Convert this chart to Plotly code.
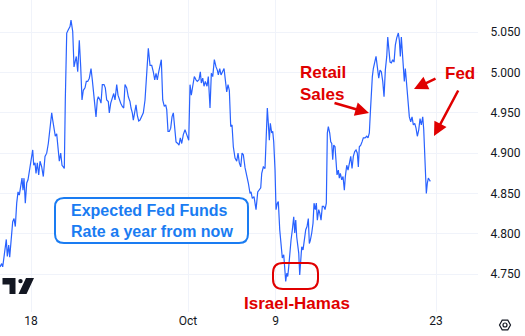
import plotly.graph_objects as go

# time in trading days since the Sep 18 session
t = [-1.914,-1.809,-1.747,-1.667,-1.586,-1.525,-1.463,-1.377,-1.315,-1.216,-1.130,-1.049,-0.969,-0.883,-0.802,-0.722,-0.636,-0.556,-0.494,-0.432,
     -0.352,-0.265,-0.185,-0.062,0.043,0.105,0.167,0.247,0.309,0.389,0.475,0.556,0.660,0.759,0.864,0.969,1.068,1.173,1.278,1.340,
     1.420,1.500,1.586,1.667,1.747,1.833,1.914,1.994,2.056,2.117,2.204,2.302,2.407,2.469,2.574,2.654,2.735,2.796,2.883,2.981,
     3.068,3.148,3.228,3.333,3.414,3.500,3.599,3.704,3.784,3.846,3.951,4.012,4.093,4.154,4.259,4.321,4.401,4.506,4.586,4.673,
     4.772,4.833,4.920,5.019,5.105,5.185,5.290,5.370,5.451,5.537,5.636,5.722,5.802,5.907,6.006,6.111,6.173,6.253,6.315,6.401,
     6.481,6.562,6.648,6.728,6.833,6.932,7.037,7.142,7.241,7.346,7.451,7.549,7.636,7.716,7.796,7.883,7.963,8.043,8.130,8.228,
     8.315,8.377,8.457,8.537,8.623,8.704,8.784,8.870,8.951,9.056,9.136,9.216,9.302,9.401,9.506,9.611,9.735,9.815,9.895,9.981,
     10.080,10.185,10.265,10.370,10.451,10.512,10.599,10.679,10.759,10.864,10.944,11.049,11.130,11.216,11.315,11.420,11.500,11.562,11.648,11.728,
     11.833,11.914,11.994,12.080,12.160,12.241,12.327,12.407,12.488,12.593,12.698,12.778,12.858,12.944,13.025,13.105,13.210,13.315,13.414,13.519,
     13.580,13.660,13.765,13.827,13.889,13.994,14.074,14.179,14.241,14.340,14.444,14.506,14.586,14.648,14.710,14.772,14.858,14.920,14.981,15.062,
     15.123,15.204,15.265,15.352,15.432,15.512,15.599,15.660,15.722,15.784,15.846,15.907,15.969,16.049,16.130,16.216,16.278,16.340,16.401,16.463,
     16.525,16.586,16.648,16.710,16.790,16.870,16.957,17.037,17.117,17.179,17.241,17.327,17.407,17.469,17.549,17.611,17.673,17.759,17.821,17.901,
     17.981,18.068,18.148,18.228,18.290,18.352,18.438,18.500,18.562,18.623,18.685,18.765,18.827,18.889,18.969,19.031,19.093,19.179,19.259,19.340,
     19.401,19.488,19.568,19.648,19.735,19.815,19.895,19.981,20.062,20.142,20.204,20.265,20.352,20.432,20.512,20.617,20.722,20.802,20.883,20.944,
     21.006,21.068,21.130,21.216,21.296,21.377,21.463,21.543,21.623,21.710,21.790,21.870,21.957,22.019,22.080,22.160,22.241,22.327,22.407,22.488,
     22.574,22.673,22.735,22.796,22.858,22.920,22.981,23.043,23.105,23.167,23.228,23.290,23.352,23.438,23.519,23.599,23.685,23.765,23.846,23.932,
     24.012,24.093,24.179,24.241,24.302,24.364,24.401,24.463,24.525,24.586,24.648]

rate = [4.759,4.763,4.759,4.770,4.782,4.793,4.772,4.786,4.771,4.792,4.815,4.819,4.809,4.838,4.852,4.848,4.863,4.869,4.854,4.869,
        4.838,4.863,4.867,4.885,4.894,4.904,4.885,4.888,4.875,4.888,4.873,4.890,4.883,4.871,4.896,4.900,4.912,4.929,4.950,4.941,
        4.929,4.921,4.924,4.904,4.890,4.900,4.885,4.883,4.881,4.966,5.049,5.053,5.057,5.065,5.051,5.007,5.018,5.020,5.001,5.040,
        5.007,4.966,4.978,4.981,4.989,4.989,4.993,5.005,4.991,4.976,4.958,4.945,4.966,4.970,4.966,4.962,4.985,4.985,4.981,4.966,
        4.964,4.950,4.962,4.970,4.974,4.966,4.985,4.972,4.966,4.962,4.958,4.956,4.985,4.981,4.970,4.964,4.956,4.950,4.941,4.954,
        4.960,4.947,4.940,4.941,4.945,4.950,4.966,5.007,5.030,5.009,5.009,5.001,4.991,4.999,4.991,5.001,5.007,5.016,4.966,4.958,
        4.960,4.954,4.927,4.927,4.931,4.945,4.950,4.933,4.914,4.912,4.910,4.919,4.912,4.923,4.929,4.923,4.916,4.985,4.972,4.983,
        4.995,4.991,4.989,4.991,5.001,4.987,4.993,4.983,4.989,4.983,4.995,4.956,4.999,4.995,5.016,5.007,5.003,4.997,5.005,4.997,
        5.001,5.005,4.991,4.976,4.985,4.978,4.933,4.935,4.908,4.894,4.890,4.900,4.888,4.883,4.900,4.898,4.882,4.873,4.863,4.850,
        4.852,4.844,4.846,4.838,4.830,4.852,4.854,4.857,4.875,4.883,4.881,4.912,4.956,4.937,4.916,4.937,4.925,4.927,4.914,4.879,
        4.830,4.838,4.840,4.805,4.788,4.770,4.774,4.751,4.741,4.751,4.747,4.759,4.780,4.792,4.805,4.821,4.801,4.817,4.796,4.788,
        4.776,4.749,4.772,4.784,4.780,4.796,4.805,4.809,4.819,4.788,4.792,4.801,4.813,4.838,4.830,4.838,4.817,4.830,4.826,4.817,
        4.834,4.834,4.830,4.838,4.925,4.933,4.925,4.914,4.912,4.892,4.910,4.908,4.890,4.873,4.879,4.869,4.875,4.867,4.871,4.854,
        4.871,4.885,4.879,4.888,4.896,4.881,4.896,4.902,4.904,4.900,4.883,4.908,4.910,4.914,4.919,4.919,4.921,4.919,4.925,4.950,
        4.976,4.995,5.005,5.012,5.020,5.007,4.993,5.003,5.001,4.989,4.970,5.003,5.020,5.044,5.030,5.013,5.012,5.016,5.013,5.034,
        5.043,5.049,5.040,5.020,5.044,5.028,5.003,4.989,5.005,4.989,4.968,4.954,4.945,4.939,4.945,4.935,4.937,4.931,4.921,4.929,
        4.943,4.935,4.945,4.929,4.896,4.863,4.850,4.863,4.869,4.867,4.865]

x_tick_vals = [0, 9.69, 15.1, 25.0]
x_tick_text = ["18", "Oct", "9", "23"]
y_tick_vals = [4.75, 4.80, 4.85, 4.90, 4.95, 5.00, 5.05]

W, H = 525, 336
ML, MR, MT, MB = 0, 47, 0, 24
PW, PH = W - ML - MR, H - MT - MB

def px(x):
    return (x - ML) / PW

def py(y):
    return 1 - (y - MT) / PH

def rrect(x0, y0, x1, y1, r):
    pts = [
        f"M {px(x0+r)},{py(y0)}", f"L {px(x1-r)},{py(y0)}",
        f"Q {px(x1)},{py(y0)} {px(x1)},{py(y0+r)}", f"L {px(x1)},{py(y1-r)}",
        f"Q {px(x1)},{py(y1)} {px(x1-r)},{py(y1)}", f"L {px(x0+r)},{py(y1)}",
        f"Q {px(x0)},{py(y1)} {px(x0)},{py(y1-r)}", f"L {px(x0)},{py(y0+r)}",
        f"Q {px(x0)},{py(y0)} {px(x0+r)},{py(y0)}", "Z"]
    return " ".join(pts)

def poly(points):
    return "M " + " L ".join(f"{px(a)},{py(b)}" for a, b in points) + " Z"

BLUE_TXT = "#1a7cf2"
RED = "#e00000"
INK = "#131722"
FONT_B = "Liberation Sans, Arial"

fig = go.Figure()
fig.add_trace(go.Scatter(x=t, y=rate, mode="lines",
                         line=dict(color="#2962ff", width=1.2), hoverinfo="skip"))

shapes = [
    dict(type="path", path=rrect(55, 198, 248, 243, 9), xref="paper", yref="paper",
         line=dict(color=BLUE_TXT, width=2), fillcolor="white", layer="above"),
    dict(type="path", path=rrect(273, 263, 318, 289, 10), xref="paper", yref="paper",
         line=dict(color=RED, width=2), layer="above"),
    # TradingView logo
    dict(type="path", path=poly([(2.5, 278), (15.5, 278), (15.5, 294), (9.5, 294), (9.5, 284.5), (2.5, 284.5)]),
         xref="paper", yref="paper", line=dict(width=0), fillcolor=INK, layer="above"),
    dict(type="circle", x0=px(18.3), x1=px(22.7), y0=py(283.3), y1=py(278.9),
         xref="paper", yref="paper", line=dict(width=0), fillcolor=INK, layer="above"),
    dict(type="path", path=poly([(26, 278), (34, 278), (26.5, 294), (18.5, 294)]),
         xref="paper", yref="paper", line=dict(width=0), fillcolor=INK, layer="above"),
    # settings icon
    dict(type="path", path=poly([(499.5, 325), (502.2, 320.2), (507.8, 320.2), (510.5, 325), (507.8, 329.8), (502.2, 329.8)]),
         xref="paper", yref="paper", line=dict(color=INK, width=1.2), fillcolor="rgba(0,0,0,0)"),
    dict(type="circle", x0=px(503), x1=px(507), y0=py(327), y1=py(323),
         xref="paper", yref="paper", line=dict(color=INK, width=1.2)),
]

annotations = [
    dict(text="<b>Expected Fed Funds<br>Rate a year from now</b>", x=px(151.5), y=py(220.5),
         xref="paper", yref="paper", showarrow=False, align="left",
         xanchor="center", yanchor="middle",
         font=dict(family=FONT_B, size=16, color=BLUE_TXT)),
    dict(text="<b>Israel-Hamas</b>", x=px(297), y=py(303), xref="paper", yref="paper", showarrow=False,
         xanchor="center", yanchor="middle",
         font=dict(family=FONT_B, size=17, color=RED)),
    dict(text="<b>Retail<br>Sales</b>", x=px(298), y=py(83.5), xref="paper", yref="paper", showarrow=False,
         xanchor="left", yanchor="middle", align="left",
         font=dict(family=FONT_B, size=17, color=RED)),
    dict(text="<b>Fed</b>", x=px(443), y=py(73), xref="paper", yref="paper", showarrow=False,
         xanchor="left", yanchor="middle", font=dict(family=FONT_B, size=17, color=RED)),
]

for (tx, ty, hx, hy) in [(333, 102.5, 369, 113), (437, 78, 414, 89), (459, 89, 434, 136)]:
    annotations.append(dict(text="", x=px(hx), y=py(hy), xref="paper", yref="paper",
                            ax=tx - hx, ay=ty - hy, showarrow=True, arrowhead=2, arrowsize=1.1,
                            arrowwidth=2.5, arrowcolor=RED, standoff=0, startstandoff=0))

fig.update_layout(
    width=W, height=H, margin=dict(l=ML, r=MR, t=MT, b=MB),
    paper_bgcolor="white", plot_bgcolor="white", showlegend=False,
    shapes=shapes, annotations=annotations,
    xaxis=dict(range=[-1.914, 27.59], tickvals=x_tick_vals, ticktext=x_tick_text,
               showgrid=True, gridcolor="#f0f3fa", gridwidth=1, zeroline=False,
               showline=False, ticks="", fixedrange=True,
               tickfont=dict(family="Roboto", size=12, color=INK)),
    yaxis=dict(range=[4.703, 5.090], side="right", tickvals=y_tick_vals, tickformat=".3f",
               showgrid=True, gridcolor="#f0f3fa", gridwidth=1, zeroline=False,
               showline=False, ticks="outside", ticklen=9, tickcolor="rgba(0,0,0,0)",
               tickfont=dict(family="Roboto", size=12, color=INK)),
)

fig.write_html("out.html")
